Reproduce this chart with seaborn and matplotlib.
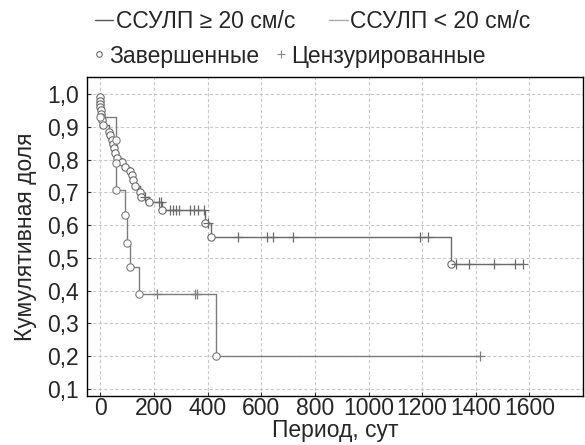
import numpy as np
import pandas as pd
import seaborn as sns
import matplotlib.pyplot as plt
from matplotlib.lines import Line2D

# ССУЛП >= 20 см/с : event times (сут) and survival after each event
hi_t = [0, 0, 0, 0, 2, 3, 4, 5, 10, 31, 37, 43, 48, 52, 56, 62, 81, 91,
        109, 118, 121, 130, 149, 151, 180, 229, 389, 412, 1306]
hi_s = [0.99, 0.98, 0.97, 0.96, 0.95, 0.94, 0.93, 0.92, 0.905, 0.885, 0.875,
        0.86, 0.848, 0.834, 0.82, 0.806, 0.793, 0.776, 0.765, 0.753, 0.737,
        0.72, 0.70, 0.686, 0.669, 0.646, 0.605, 0.564, 0.481]
hi_cens = [168, 217, 226, 258, 270, 283, 295, 335, 350, 365, 385, 403, 515,
           621, 643, 717, 1192, 1223, 1326, 1375, 1467, 1546, 1577]

# ССУЛП < 20 см/с
lo_t = [0, 60, 60, 60, 90, 101, 112, 143, 432]
lo_s = [0.93, 0.86, 0.79, 0.707, 0.63, 0.546, 0.473, 0.389, 0.20]
lo_cens = [211, 352, 362, 1415]

labels = ['ССУЛП ≥ 20 см/с', 'ССУЛП < 20 см/с']
colors = ['#6a6a6a', '#7c7c7c']
FS = 16.5

sns.set_style('ticks')
plt.rcParams['font.family'] = ['Liberation Sans', 'DejaVu Sans']

fig = plt.figure(figsize=(5.85, 4.45), dpi=100)
ax = fig.add_axes([87/585, 1-396/445, (583-87)/585, (396-77)/445])


def curve(t, s, cens):
    end = max(max(t), max(cens))
    steps = pd.DataFrame({'t': [0] + list(t) + [end], 's': [1.0] + list(s) + [s[-1]]})
    ev = pd.DataFrame({'t': t, 's': s})
    # survival value at each censored time
    idx = np.searchsorted(np.array(t), np.array(cens), side='right') - 1
    cs = pd.DataFrame({'t': cens, 's': [s[i] if i >= 0 else 1.0 for i in idx]})
    return steps, ev, cs


for (t, s, cens), col in zip([(hi_t, hi_s, hi_cens), (lo_t, lo_s, lo_cens)], colors):
    steps, ev, cs = curve(t, s, cens)
    sns.lineplot(data=steps, x='t', y='s', ax=ax, estimator=None, sort=False,
                 drawstyle='steps-post', color=col, linewidth=1.0, zorder=3)
    sns.scatterplot(data=ev, x='t', y='s', ax=ax, marker='o', s=28,
                    facecolor='white', edgecolor=col, linewidth=0.8, zorder=4)
    sns.scatterplot(data=cs, x='t', y='s', ax=ax, marker='+', s=45,
                    color=col, linewidth=0.9, zorder=4)

ax.set_xlim(-50, 1800)
ax.set_ylim(0.078, 1.052)
ax.set_xticks(np.arange(0, 1601, 200))
ax.set_yticks(np.arange(0.1, 1.01, 0.1))
ax.set_yticklabels([f'{v:.1f}'.replace('.', ',') for v in np.arange(0.1, 1.01, 0.1)])
ax.grid(True, color='#c8c8c8', linestyle=(0, (3, 2)), linewidth=0.8)
ax.set_axisbelow(True)
ax.tick_params(direction='in', length=3, labelsize=FS, color='#333333')
ax.tick_params(axis='y', pad=6)
ax.tick_params(axis='x', pad=1)
for sp in ax.spines.values():
    sp.set_visible(True)
    sp.set_color('black')
    sp.set_linewidth(1.0)
ax.set_xlabel('Период, сут', fontsize=FS, labelpad=-1)
ax.set_ylabel('Кумулятивная доля', fontsize=FS, labelpad=7)

h1 = [Line2D([], [], color='#555555', lw=1), Line2D([], [], color='#aaaaaa', lw=1)]
fig.legend(h1, labels, loc='center left', bbox_to_anchor=(95/585, 1-22/445),
           ncol=2, frameon=False, fontsize=FS, handlelength=0.8, handletextpad=0.1,
           columnspacing=1.5, borderpad=0, borderaxespad=0)
h2 = [Line2D([], [], ls='', marker='o', ms=4, mfc='white', mec='#555555', mew=0.7),
      Line2D([], [], ls='', marker='+', ms=6, color='#888888', mew=0.8)]
fig.legend(h2, ['Завершенные', 'Цензурированные'], loc='center left',
           bbox_to_anchor=(93/585, 1-56/445), ncol=2, frameon=False, fontsize=FS,
           handlelength=0.5, handletextpad=0.2, columnspacing=0.7,
           borderpad=0, borderaxespad=0)

fig.savefig('out.png', dpi=100)
